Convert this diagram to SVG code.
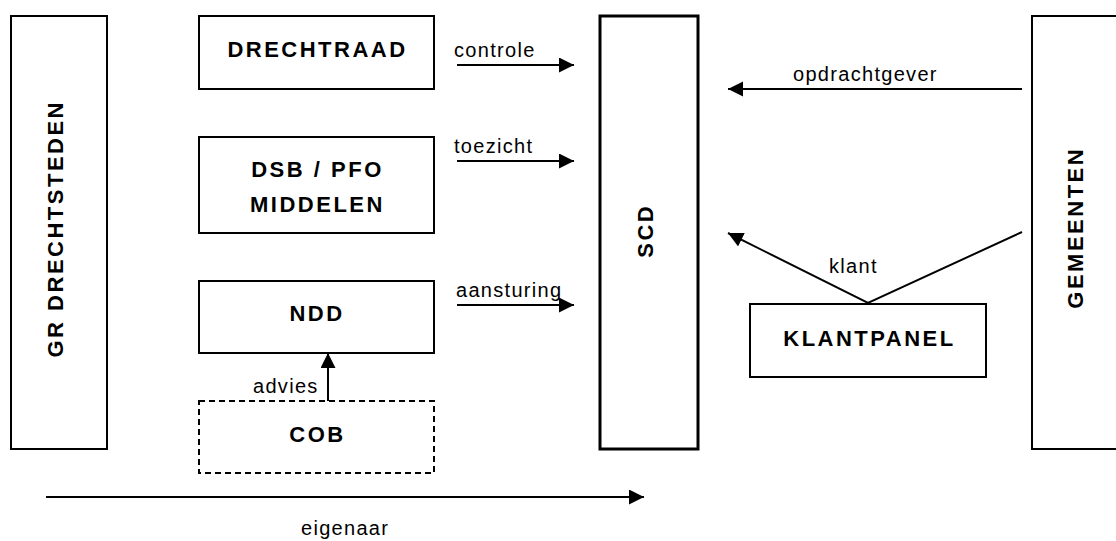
<svg xmlns="http://www.w3.org/2000/svg" width="1116" height="541" viewBox="0 0 1116 541">
<style>
.box{fill:#fff;stroke:#000;stroke-width:2}
.thick{stroke-width:3}
.dash{stroke-dasharray:6 4}
.b{font-family:"Liberation Sans",Arial,sans-serif;font-weight:bold;font-size:22px;letter-spacing:2.5px;fill:#000}
.r{font-family:"Liberation Sans",Arial,sans-serif;font-size:20px;letter-spacing:1.3px;fill:#000}
.c{stroke:#000;stroke-width:2;fill:none}
</style>
<defs>
<marker id="ah" markerUnits="userSpaceOnUse" markerWidth="16" markerHeight="16" refX="15" refY="7.5" orient="auto" viewBox="0 0 16 16">
<path d="M0,0 L15,7.5 L0,15 z" fill="#000"/>
</marker>
</defs>
<rect width="1116" height="541" fill="#fff"/>
<g id="gr">
<rect class="box" x="11" y="16" width="96" height="433"/>
<text class="b" transform="translate(63,230) rotate(-90)" text-anchor="middle" dx="1.25">GR DRECHTSTEDEN</text>
</g>
<g id="drechtraad">
<rect class="box" x="199" y="16" width="235" height="73"/>
<text class="b" x="317.5" y="57" text-anchor="middle">DRECHTRAAD</text>
</g>
<g id="dsb">
<rect class="box" x="199" y="137" width="235" height="96"/>
<text class="b" x="317.5" y="177" text-anchor="middle">DSB / PFO</text>
<text class="b" x="317.5" y="212" text-anchor="middle">MIDDELEN</text>
</g>
<g id="ndd">
<rect class="box" x="199" y="281" width="235" height="72"/>
<text class="b" x="317" y="321" text-anchor="middle">NDD</text>
</g>
<g id="cob">
<rect class="box dash" x="199" y="401" width="235" height="72"/>
<text class="b" x="317.5" y="442" text-anchor="middle">COB</text>
</g>
<g id="scd">
<rect class="box thick" x="600" y="16" width="98" height="433"/>
<text class="b" transform="translate(653,232) rotate(-90)" text-anchor="middle" dx="1.25">SCD</text>
</g>
<g id="klantpanel">
<rect class="box" x="750" y="304" width="236" height="73"/>
<text class="b" x="869.5" y="346" text-anchor="middle">KLANTPANEL</text>
</g>
<g id="gemeenten">
<rect class="box" x="1032" y="16" width="100" height="433"/>
<text class="b" transform="translate(1083,229) rotate(-90)" text-anchor="middle" dx="1.25">GEMEENTEN</text>
</g>
<g id="connectors">
<line class="c" x1="457" y1="65" x2="574" y2="65" marker-end="url(#ah)"/>
<line class="c" x1="457" y1="161" x2="574" y2="161" marker-end="url(#ah)"/>
<line class="c" x1="457" y1="305" x2="574" y2="305" marker-end="url(#ah)"/>
<line class="c" x1="1022" y1="89" x2="728" y2="89" marker-end="url(#ah)"/>
<polyline class="c" points="1022,232 868,303 728,233" marker-end="url(#ah)"/>
<line class="c" x1="328" y1="401" x2="328" y2="353" marker-end="url(#ah)"/>
<line class="c" x1="46" y1="497" x2="644" y2="497" marker-end="url(#ah)"/>
<text class="r" x="454" y="57">controle</text>
<text class="r" x="454" y="153">toezicht</text>
<text class="r" x="456" y="297">aansturing</text>
<text class="r" x="793" y="81">opdrachtgever</text>
<text class="r" x="829" y="273">klant</text>
<text class="r" x="253" y="393">advies</text>
<text class="r" x="301" y="535">eigenaar</text>
</g>
</svg>
